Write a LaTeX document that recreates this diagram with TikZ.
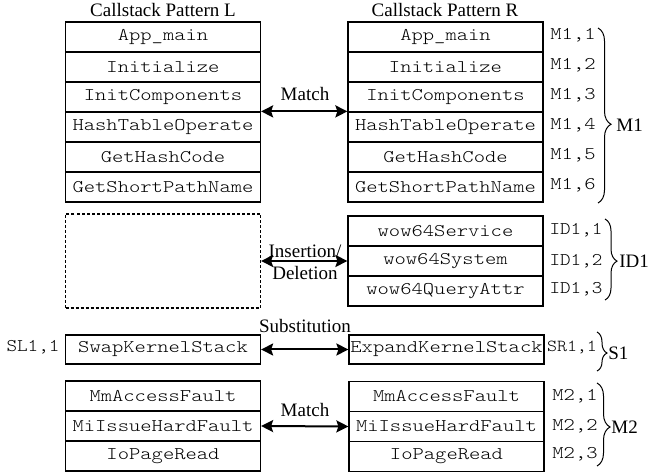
\documentclass[tikz,border=0pt]{standalone}
\usepackage{fontspec}
\setmainfont{Liberation Serif}
\setmonofont{lmmonolt10-regular.otf}[FakeStretch=1.21]
\newfontfamily\tagfont{lmmonolt10-regular.otf}[FakeStretch=1.13]
\usetikzlibrary{arrows.meta,decorations.pathreplacing}
\begin{document}
\begin{tikzpicture}[x=0.5pt,y=-0.5pt,
  frame/.style={draw, line width=0.6pt, minimum width=97.5pt, minimum height=15pt, inner sep=0pt,
    font=\ttfamily\fontsize{8.9}{10}\selectfont},
  lbl/.style={font=\fontsize{9.5}{10}\selectfont, inner sep=0pt},
  tag/.style={font=\ttfamily\fontsize{8.9}{10}\selectfont, inner sep=0pt},
  tagw/.style={font=\tagfont\fontsize{8.9}{10}\selectfont, inner sep=0pt},
  link/.style={line width=1pt, {Stealth[length=6pt,width=6pt,inset=1pt]}-{Stealth[length=6pt,width=6pt,inset=1pt]}},
  brc/.style 2 args={decorate, decoration={brace, amplitude=#1, aspect=#2}, line width=0.5pt}
]
\useasboundingbox (0,0) rectangle (652,474);

% titles
\node[lbl] (tL) at (163,10) {Callstack Pattern L};
\node[lbl] (tR) at (445,10) {Callstack Pattern R};

% top stacks
\node[frame] (L1) at (163,37) {App\_main};
\node[frame] (L2) at (163,67) {Initialize};
\node[frame] (L3) at (163,97) {InitComponents};
\node[frame] (L4) at (163,127) {HashTableOperate};
\node[frame] (L5) at (163,157) {GetHashCode};
\node[frame] (L6) at (163,187) {GetShortPathName};

\node[frame] (R1) at (445.5,37) {App\_main};
\node[frame] (R2) at (445.5,67) {Initialize};
\node[frame] (R3) at (445.5,97) {InitComponents};
\node[frame] (R4) at (445.5,127) {HashTableOperate};
\node[frame] (R5) at (445.5,157) {GetHashCode};
\node[frame] (R6) at (445.5,187) {GetShortPathName};

\node[tag] (m11) at (573,35) {M1,1};
\node[tag] (m12) at (573,65) {M1,2};
\node[tag] (m13) at (573,95) {M1,3};
\node[tag] (m14) at (573,125) {M1,4};
\node[tag] (m15) at (573,155) {M1,5};
\node[tag] (m16) at (573,185) {M1,6};

\draw[link] (L4.north east) -- (R4.north west);
\node[lbl] (match1) at (305,94) {Match};

\coordinate (b1s) at (598,28);
\coordinate (b1e) at (598,203);
\draw[brc={6.5pt}{0.55}] (b1s) -- (b1e);
\node[lbl, anchor=west] (M1) at (616,125) {M1};

% insertion / deletion
\node[draw, dash pattern=on 1.5pt off 1pt, line width=0.6pt, minimum width=97.5pt, minimum height=47pt, inner sep=0pt] (D) at (163,261) {};
\node[frame] (W1) at (445.5,231) {wow64Service};
\node[frame] (W2) at (445.5,261) {wow64System};
\node[frame] (W3) at (445.5,291) {wow64QueryAttr};

\node[tagw] (i1) at (576,230) {ID1,1};
\node[tagw] (i2) at (576,261) {ID1,2};
\node[tagw] (i3) at (576,289) {ID1,3};

\draw[link] (D.east) -- (W2.west);
\node[lbl] (ins) at (305,251) {Insertion/};
\node[lbl] (del) at (305,273) {Deletion};

\coordinate (b2s) at (605,219);
\coordinate (b2e) at (605,300);
\draw[brc={6pt}{0.52}] (b2s) -- (b2e);
\node[lbl, anchor=west] (ID1) at (619,261) {ID1};

% substitution
\node[frame, minimum height=14.5pt] (SL) at (163,349.5) {SwapKernelStack};
\node[frame, minimum height=14.5pt] (SR) at (446.5,349.5) {ExpandKernelStack};
\node[tagw] (sl1) at (33,347) {SL1,1};
\node[tagw, font=\tagfont\fontsize{8.4}{10}\selectfont] (sr1) at (572,347) {SR1,1};

\draw[link] (SL.east) -- (SR.west);
\node[lbl] (sub) at (305,326) {Substitution};

\coordinate (b3s) at (597,332);
\coordinate (b3e) at (597,371);
\draw[brc={5pt}{0.54}] (b3s) -- (b3e);
\node[lbl, anchor=west] (S1) at (608,353) {S1};

% bottom match
\node[frame] (P1) at (163,396) {MmAccessFault};
\node[frame] (P2) at (163,426) {MiIssueHardFault};
\node[frame] (P3) at (163,456) {IoPageRead};

\node[frame] (Q1) at (446.5,396.5) {MmAccessFault};
\node[frame] (Q2) at (446.5,426.5) {MiIssueHardFault};
\node[frame] (Q3) at (446.5,456.5) {IoPageRead};

\node[tag] (n1) at (575,396) {M2,1};
\node[tag] (n2) at (575,426) {M2,2};
\node[tag] (n3) at (575,454) {M2,3};

\draw[link] (P2.east) -- (Q2.west);
\node[lbl] (match2) at (305,410) {Match};

\coordinate (b4s) at (597,383);
\coordinate (b4e) at (597,466);
\draw[brc={6.5pt}{0.53}] (b4s) -- (b4e);
\node[lbl, anchor=west] (M2) at (611,427) {M2};
\end{tikzpicture}
\end{document}
